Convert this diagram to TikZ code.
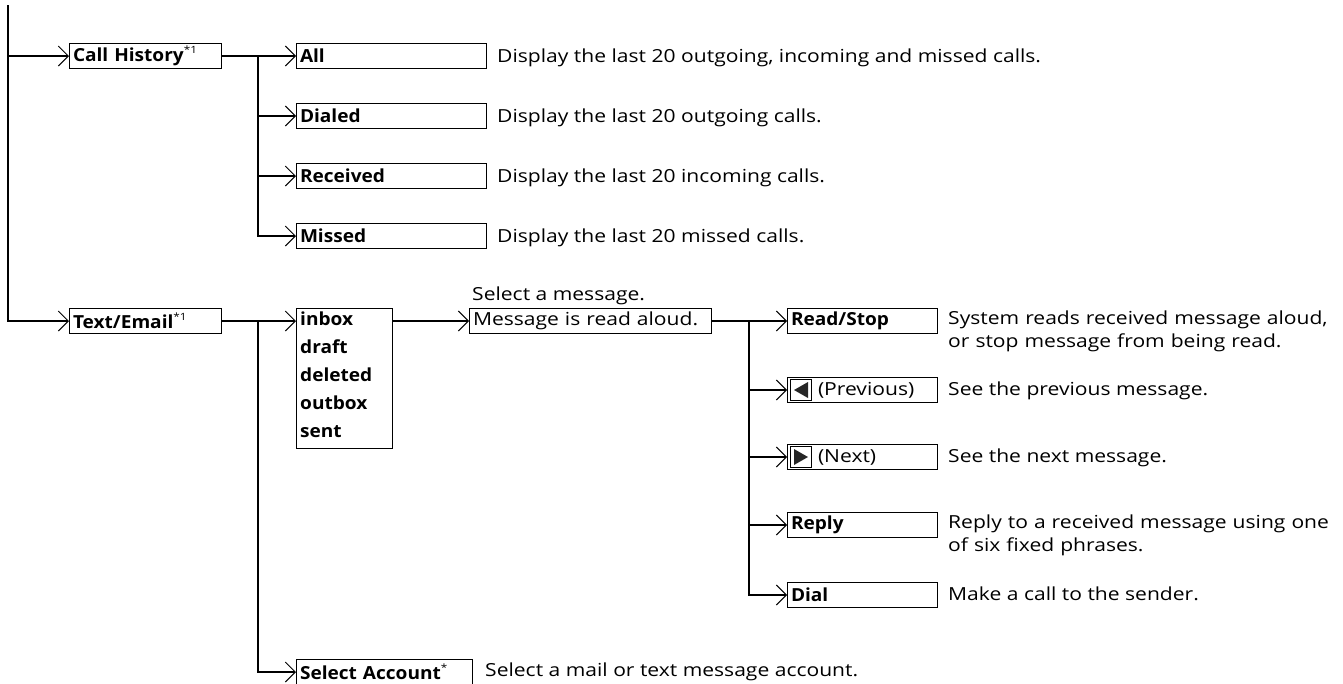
\documentclass[tikz,border=0pt]{standalone}
\usepackage{fontspec}
\setmainfont{Open Sans}[FakeStretch=1.17]
\newfontfamily\lblfont{Open Sans}[FakeStretch=1.06]
\usetikzlibrary{arrows.meta}
\newcommand{\mysup}[1]{\raisebox{0.42em}{\fontsize{10}{10}\selectfont\rmfamily\mdseries #1}}
\begin{document}
\begin{tikzpicture}[x=1pt,y=-1pt,
  every node/.style={font=\fontsize{18}{23.5}\selectfont},
  box/.style={draw, line width=1pt, inner xsep=3.5pt, inner ysep=0pt,
    minimum height=25pt, anchor=west, align=left, font=\fontsize{18}{23.5}\selectfont\lblfont\bfseries},
  plainbox/.style={box, font=\fontsize{18}{23.5}\selectfont},
  arr/.style={line width=2pt, -{Straight Barb[length=10pt,width=20pt,line width=1pt]}},
  desc/.style={anchor=base west, inner sep=0pt},
  desctwo/.style={anchor=base west, inner sep=0pt, text width=400pt, align=left},
  icon/.style={line width=0.9pt},
]
\useasboundingbox (0,0) rectangle (1343,683);
\clip (0,0) rectangle (1343,683);

% level 1
\node[box, text width=145pt] (ch) at (69,56) {Call History\mysup{*1}};
\node[box, text width=145pt] (te) at (69,321) {Text/Email\mysup{*1}};
\coordinate (trunk) at (8,5);
\draw[arr] (trunk) |- (te.west);
\draw[arr] (trunk |- ch.west) -- (ch.west);

% call history
\node[box, text width=183pt] (all) at (296,56) {All};
\node[box, text width=183pt] (dialed) at (296,116) {Dialed};
\node[box, text width=183pt] (received) at (296,176) {Received};
\node[box, text width=183pt] (missed) at (296,236) {Missed};
\coordinate (b1) at (258,56);
\draw[arr] (ch.east) -- (all.west);
\draw[arr] (b1) |- (missed.west);
\draw[arr] (b1 |- dialed.west) -- (dialed.west);
\draw[arr] (b1 |- received.west) -- (received.west);
\node[desc] (dall) at (497,62) {Display the last 20 outgoing, incoming and missed calls.};
\node[desc] (ddialed) at (497,122) {Display the last 20 outgoing calls.};
\node[desc] (dreceived) at (497,182) {Display the last 20 incoming calls.};
\node[desc] (dmissed) at (497,242) {Display the last 20 missed calls.};

% text/email
\node[draw, line width=1pt, minimum width=96pt, minimum height=140pt, inner sep=0pt,
  anchor=north west] (inbox) at (296,308) {};
\node[anchor=base west, inner sep=0pt, text width=88pt, align=left,
  font=\fontsize{18}{28}\selectfont\lblfont\bfseries] (inboxtxt) at (300,325)
  {inbox\\draft\\deleted\\outbox\\sent};
\node[plainbox, text width=235pt] (msg) at (469,321) {Message is read aloud.};
\node[desc] (selmsg) at (472,300) {Select a message.};
\node[box, text width=169pt] (sel) at (296,672) {Select Account\mysup{*}};
\node[desc] (dsel) at (485,676) {Select a mail or text message account.};
\coordinate (b2) at (258,321);
\draw[arr] (te.east) -- (te.east -| inbox.west);
\draw[arr] (b2) |- (sel.west);
\draw[arr] (msg.west -| inbox.east) -- (msg.west);

% message actions
\node[box, text width=143pt] (read) at (787,321) {Read/Stop};
\node[plainbox, text width=143pt] (prev) at (787,390) {\hspace*{27pt}(Previous)};
\node[plainbox, text width=143pt] (next) at (787,457) {\hspace*{27pt}(Next)};
\node[box, text width=143pt] (reply) at (787,525) {Reply};
\node[box, text width=143pt] (dial) at (787,595) {Dial};
\begin{scope}[shift={(prev.west)}]
  \draw[icon] (3,-10.5) rectangle (24,10.5);
  \fill[black!85] (7,0) -- (21,-8) -- (21,8) -- cycle;
\end{scope}
\begin{scope}[shift={(next.west)}]
  \draw[icon] (3,-10.5) rectangle (24,10.5);
  \fill[black!85] (21,0) -- (7,-8) -- (7,8) -- cycle;
\end{scope}
\coordinate (b3) at (749,321);
\draw[arr] (msg.east) -- (read.west);
\draw[arr] (b3) |- (dial.west);
\draw[arr] (b3 |- prev.west) -- (prev.west);
\draw[arr] (b3 |- next.west) -- (next.west);
\draw[arr] (b3 |- reply.west) -- (reply.west);
\node[desctwo] (dread) at (948,324) {System reads received message aloud,\\or stop message from being read.};
\node[desc] (dprev) at (948,395) {See the previous message.};
\node[desc] (dnext) at (948,462) {See the next message.};
\node[desctwo] (dreply) at (948,528) {Reply to a received message using one\\of six fixed phrases.};
\node[desc] (ddial) at (948,600) {Make a call to the sender.};
\end{tikzpicture}
\end{document}
